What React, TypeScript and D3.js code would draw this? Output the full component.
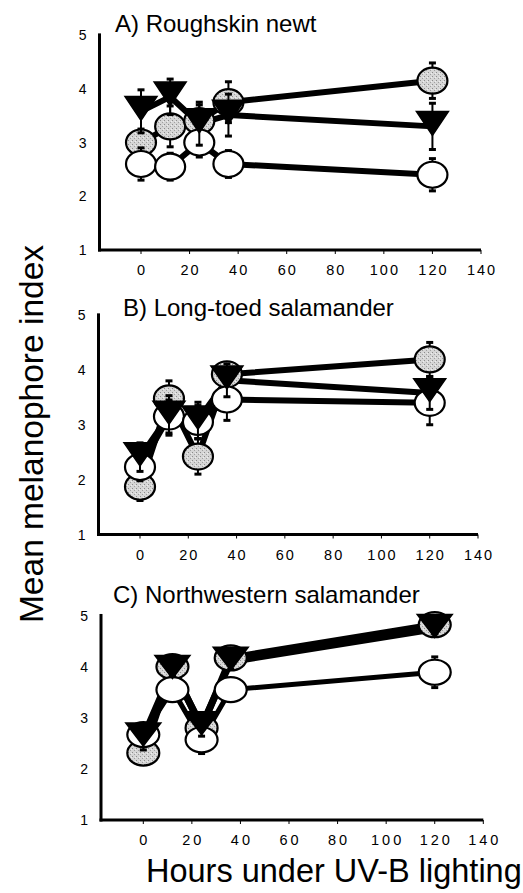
import React from "react";
import * as d3 from "d3";

// hours of exposure (x values shared by every panel)
const hours = [0, 12, 24, 36, 120];
const xTicks = [0, 20, 40, 60, 80, 100, 120, 140];
const yTicks = [1, 2, 3, 4, 5];
const panelTitles = ["A) Roughskin newt", "B) Long-toed salamander", "C) Northwestern salamander"];

// A) Roughskin newt
const newtGray = [3.0, 3.3, 3.4, 3.75, 4.15];
const newtGraySE = [0.25, 0.38, 0.3, 0.38, 0.33];
const newtWhite = [2.6, 2.55, 3.0, 2.6, 2.4];
const newtWhiteSE = [0.3, 0.25, 0.27, 0.25, 0.3];
const newtTri = [3.58, 3.85, 3.35, 3.51, 3.3];
const newtTriSE = [0.4, 0.33, 0.4, 0.39, 0.43];

// B) Long-toed salamander
const longGray = [1.87, 3.48, 2.42, 3.92, 4.19];
const longGraySE = [0.25, 0.32, 0.32, 0.2, 0.31];
const longWhite = [2.23, 3.15, 3.05, 3.46, 3.4];
const longWhiteSE = [0.25, 0.3, 0.3, 0.38, 0.4];
const longTri = [2.41, 3.17, 3.08, 3.81, 3.58];
const longTriSE = [0.26, 0.36, 0.33, 0.3, 0.3];

// C) Northwestern salamander
const nwGray = [2.31, 4.0, 2.8, 4.17, 4.82];
const nwGraySE = [0.15, 0.1, 0.15, 0.12, 0.1];
const nwWhite = [2.67, 3.55, 2.57, 3.55, 3.89];
const nwWhiteSE = [0.15, 0.1, 0.27, 0.1, 0.3];
const nwTri = [2.62, 3.94, 2.84, 4.1, 4.74];
const nwTriSE = [0.25, 0.12, 0.2, 0.15, 0.1];

const panelData = [
  { gray: newtGray, graySE: newtGraySE, white: newtWhite, whiteSE: newtWhiteSE, tri: newtTri, triSE: newtTriSE },
  { gray: longGray, graySE: longGraySE, white: longWhite, whiteSE: longWhiteSE, tri: longTri, triSE: longTriSE },
  { gray: nwGray, graySE: nwGraySE, white: nwWhite, whiteSE: nwWhiteSE, tri: nwTri, triSE: nwTriSE },
];

// where each panel sits on the page
const layouts = [
  { x0: 141, x140: 481, axisX: 99.5, y1: 250, y5: 35, titleX: 115, titleY: 32, rx: 15, ry: 13, tw: 32, th: 24, ls: 2, lw: 6 },
  { x0: 140, x140: 478, axisX: 98.5, y1: 534.5, y5: 315, titleX: 123, titleY: 316, rx: 15, ry: 13, tw: 32, th: 23, ls: 2, lw: 6 },
  { x0: 143.3, x140: 483.3, axisX: 101, y1: 820, y5: 615.5, titleX: 113, titleY: 603, rx: 16, ry: 12.5, tw: 35, th: 23, ls: 3, lw: 7 },
];

const font = "'Liberation Sans', Arial, sans-serif";

function Panel({ idx }: { idx: number }) {
  const L = layouts[idx];
  const d = panelData[idx];
  const x = d3.scaleLinear().domain([0, 140]).range([L.x0, L.x140]);
  const y = d3.scaleLinear().domain([1, 5]).range([L.y1, L.y5]);
  const line = d3
    .line<number>()
    .x((_, i) => x(hours[i]))
    .y((v) => y(v));

  const series = [
    { vals: d.gray, se: d.graySE, kind: "gray", lw: L.lw },
    { vals: d.white, se: d.whiteSE, kind: "white", lw: idx === 2 ? 5 : L.lw },
    { vals: d.tri, se: d.triSE, kind: "tri", lw: L.lw },
  ];

  const errBars = (vals: number[], se: number[]) =>
    vals.map((v, i) => {
      const cx = x(hours[i]);
      const top = y(v + se[i]);
      const bot = y(v - se[i]);
      return (
        <g key={"e" + i} stroke="#000">
          <line x1={cx} x2={cx} y1={top} y2={bot} strokeWidth={2} />
          <line x1={cx - 3.5} x2={cx + 3.5} y1={top} y2={top} strokeWidth={3} />
          <line x1={cx - 3.5} x2={cx + 3.5} y1={bot} y2={bot} strokeWidth={3} />
        </g>
      );
    });

  return (
    <g>
      <text x={L.titleX} y={L.titleY} fontSize={24} fontFamily={font}>
        {panelTitles[idx]}
      </text>
      {/* axes */}
      <line x1={L.axisX} x2={L.axisX} y1={L.y1 + 1.5} y2={y(5.03)} stroke="#000" strokeWidth={3} />
      <line x1={L.axisX - 1.5} x2={x(140)} y1={L.y1} y2={L.y1} stroke="#000" strokeWidth={3} />
      {xTicks.map((t) => (
        <g key={"xt" + t}>
          <line x1={x(t)} x2={x(t)} y1={L.y1} y2={L.y1 + 4} stroke="#000" strokeWidth={1} />
          <text
            x={x(t) + L.ls / 2}
            y={L.y1 + 25}
            fontSize={14.5}
            fontFamily={font}
            textAnchor="middle"
            letterSpacing={L.ls}
          >
            {t}
          </text>
        </g>
      ))}
      {yTicks.map((t) => (
        <text key={"yt" + t} x={L.axisX - 13} y={y(t) + 5} fontSize={14} fontFamily={font} textAnchor="end">
          {t}
        </text>
      ))}
      {/* connecting lines */}
      {series.map((s) => (
        <path key={"l" + s.kind} d={line(s.vals) || ""} fill="none" stroke="#000" strokeWidth={s.lw} strokeLinejoin="round" />
      ))}
      {/* error bars + markers */}
      {series.map((s) => (
        <g key={"m" + s.kind}>
          {errBars(s.vals, s.se)}
          {s.vals.map((v, i) => {
            const cx = x(hours[i]);
            const cy = y(v);
            if (s.kind === "tri") {
              const p = `M${cx - L.tw / 2},${cy - L.th * 0.62} L${cx + L.tw / 2},${cy - L.th * 0.62} L${cx},${cy + L.th * 0.38} Z`;
              return <path key={i} d={p} fill="#000" stroke="#000" strokeWidth={1.5} strokeLinejoin="miter" />;
            }
            return (
              <ellipse
                key={i}
                cx={cx}
                cy={cy}
                rx={L.rx}
                ry={L.ry}
                fill={s.kind === "gray" ? "url(#stipple)" : "#fff"}
                stroke="#000"
                strokeWidth={2.2}
              />
            );
          })}
        </g>
      ))}
    </g>
  );
}

export default function App() {
  return (
    <svg width={523} height={893} style={{ position: "absolute", left: 0, top: 0, background: "#fff" }}>
      <defs>
        <pattern id="stipple" width={4} height={4} patternUnits="userSpaceOnUse">
          <rect width={4} height={4} fill="#d6d6d6" />
          <rect x={0} y={0} width={1} height={1} fill="#8c8c8c" />
          <rect x={2} y={2} width={1} height={1} fill="#a0a0a0" />
          <rect x={3} y={1} width={1} height={1} fill="#eeeeee" />
        </pattern>
      </defs>
      <rect width={523} height={893} fill="#fff" />
      {[0, 1, 2].map((i) => (
        <Panel key={i} idx={i} />
      ))}
      <text
        transform="translate(42.5,434) rotate(-90)"
        fontSize={33.5}
        fontFamily={font}
        textAnchor="middle"
      >
        Mean melanophore index
      </text>
      <text x={146} y={882} fontSize={32.5} fontFamily={font}>
        Hours under UV-B lighting
      </text>
    </svg>
  );
}
